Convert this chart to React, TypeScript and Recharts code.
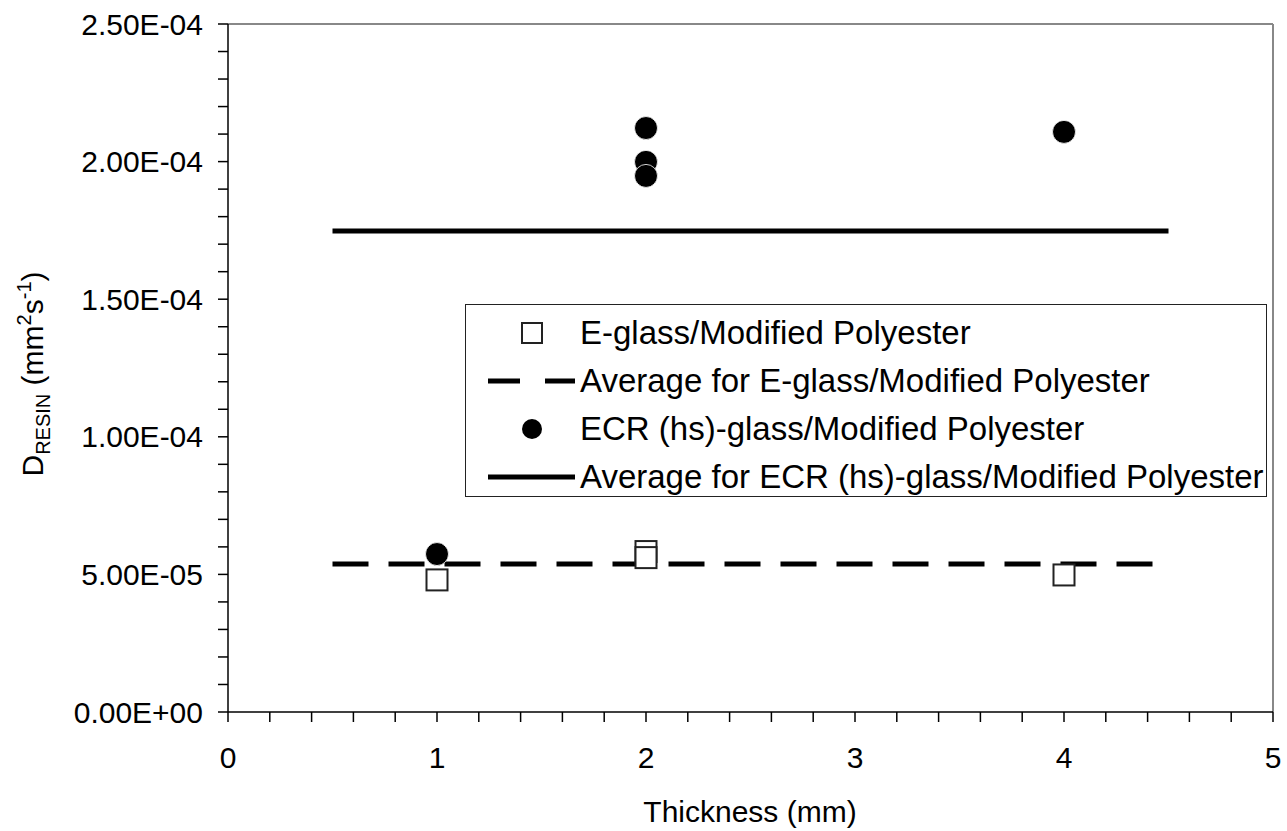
import React from 'react';
import { ScatterChart, Scatter, XAxis, YAxis, ReferenceLine, Legend, Label } from 'recharts';

// axis ticks (major ones get labels)
const xMajorTicks = [0, 1, 2, 3, 4, 5];
const xTicks = [0, 0.2, 0.4, 0.6, 0.8, 1, 1.2, 1.4, 1.6, 1.8, 2, 2.2, 2.4, 2.6, 2.8, 3, 3.2, 3.4, 3.6, 3.8, 4, 4.2, 4.4, 4.6, 4.8, 5];
const yMajorTicks = [0, 5e-5, 1e-4, 1.5e-4, 2e-4, 2.5e-4];
const yTicks = [0, 1e-5, 2e-5, 3e-5, 4e-5, 5e-5, 6e-5, 7e-5, 8e-5, 9e-5, 1e-4, 1.1e-4, 1.2e-4, 1.3e-4, 1.4e-4, 1.5e-4, 1.6e-4, 1.7e-4, 1.8e-4, 1.9e-4, 2e-4, 2.1e-4, 2.2e-4, 2.3e-4, 2.4e-4, 2.5e-4];

// E-glass/Modified Polyester
const thicknessEglass = [1, 2, 2, 4];
const dResinEglass = [4.8e-5, 5.83e-5, 5.61e-5, 4.98e-5];
const avgEglass = 5.38e-5;

// ECR (hs)-glass/Modified Polyester
const thicknessEcr = [1, 2, 2, 2, 4];
const dResinEcr = [5.74e-5, 2.122e-4, 1.999e-4, 1.948e-4, 2.108e-4];
const avgEcr = 1.748e-4;

const avgSpan = [0.5, 4.5];

const legendNames = [
  'E-glass/Modified Polyester',
  'Average for E-glass/Modified Polyester',
  'ECR (hs)-glass/Modified Polyester',
  'Average for ECR (hs)-glass/Modified Polyester',
];

const FONT = '"Liberation Sans", Arial, Helvetica, sans-serif';

const eglassPoints = thicknessEglass.map((x, i) => ({ x, y: dResinEglass[i] }));
const ecrPoints = thicknessEcr.map((x, i) => ({ x, y: dResinEcr[i] }));
const eglassAvgLine = avgSpan.map((x) => ({ x, y: avgEglass }));
const ecrAvgLine = avgSpan.map((x) => ({ x, y: avgEcr }));

const fmtX = (v: number) => (xMajorTicks.some((t) => Math.abs(t - v) < 1e-9) ? String(v) : '');

const fmtY = (v: number) => {
  if (!yMajorTicks.some((t) => Math.abs(t - v) < 1e-12)) return '';
  const [m, e] = v.toExponential(2).split('e');
  const n = parseInt(e, 10);
  const sign = n < 0 ? '-' : '+';
  return `${m}E${sign}${String(Math.abs(n)).padStart(2, '0')}`;
};

const SquareShape = (props: any) => {
  const { cx, cy } = props;
  return <rect x={cx - 10.5} y={cy - 10.5} width={21} height={21} fill="#fff" stroke="#222" strokeWidth={2} />;
};

const CircleShape = (props: any) => {
  const { cx, cy } = props;
  return <circle cx={cx} cy={cy} r={11.5} fill="#000" stroke="#fff" strokeWidth={0.8} />;
};

const NoShape = () => <g />;

const LegendSymbol = ({ index }: { index: number }) => {
  if (index === 0) return <rect x={56} y={14} width={20} height={20} fill="#fff" stroke="#222" strokeWidth={2} />;
  if (index === 1) return <line x1={22} x2={109} y1={24} y2={24} stroke="#000" strokeWidth={5} strokeDasharray="32 25" />;
  if (index === 2) return <circle cx={66} cy={24} r={10} fill="#000" />;
  return <line x1={22} x2={109} y1={24} y2={24} stroke="#000" strokeWidth={5} />;
};

const LegendBox = () => (
  <div
    style={{
      boxSizing: 'border-box',
      width: 802,
      height: 193,
      border: '1px solid #222',
      background: '#fff',
      paddingTop: 4,
      fontFamily: FONT,
      fontSize: 33,
      color: '#000',
    }}
  >
    {legendNames.map((name, i) => (
      <div key={name} style={{ display: 'flex', alignItems: 'center', height: 48 }}>
        <svg width={114} height={48} style={{ flex: 'none' }}>
          <LegendSymbol index={i} />
        </svg>
        <span style={{ whiteSpace: 'nowrap', lineHeight: '48px' }}>{name}</span>
      </div>
    ))}
  </div>
);

const XTitle = () => (
  <text x={750} y={822} textAnchor="middle" fontFamily={FONT} fontSize={30} fill="#000">
    Thickness (mm)
  </text>
);

const YTitle = () => (
  <text transform="translate(43,374) rotate(-90)" textAnchor="middle" fontFamily={FONT} fontSize={30} fill="#000">
    D
    <tspan dy={7} fontSize={20}>RESIN</tspan>
    <tspan dy={-7}> (mm</tspan>
    <tspan dy={-12} fontSize={20}>2</tspan>
    <tspan dy={12}>s</tspan>
    <tspan dy={-12} fontSize={20}>-1</tspan>
    <tspan dy={12}>)</tspan>
  </text>
);

export default function App() {
  return (
    <div style={{ position: 'absolute', left: 0, top: 0, fontFamily: FONT, background: '#fff' }}>
      <ScatterChart width={1287} height={831} margin={{ top: 24, right: 14, bottom: 0, left: 0 }}>
        <XAxis
          type="number"
          dataKey="x"
          domain={[0, 5]}
          ticks={xTicks}
          interval={0}
          tickFormatter={fmtX}
          height={119}
          tickSize={10}
          tickMargin={25}
          axisLine={{ stroke: '#000', strokeWidth: 1.5 }}
          tickLine={{ stroke: '#000', strokeWidth: 1.5 }}
          tick={{ fill: '#000', fontSize: 30, fontFamily: FONT }}
        >
          <Label content={<XTitle />} />
        </XAxis>
        <YAxis
          type="number"
          dataKey="y"
          domain={[0, 2.5e-4]}
          ticks={yTicks}
          interval={0}
          tickFormatter={fmtY}
          width={228}
          tickSize={10}
          tickMargin={15}
          axisLine={{ stroke: '#000', strokeWidth: 1.5 }}
          tickLine={{ stroke: '#000', strokeWidth: 1.5 }}
          tick={{ fill: '#000', fontSize: 30, fontFamily: FONT }}
        >
          <Label content={<YTitle />} />
        </YAxis>
        <ReferenceLine y={2.5e-4} stroke="#888" strokeWidth={2} />
        <ReferenceLine x={5} stroke="#888" strokeWidth={2} />
        <Scatter
          name={legendNames[1]}
          data={eglassAvgLine}
          line={{ stroke: '#000', strokeWidth: 5, strokeDasharray: '36 20' }}
          shape={NoShape}
          isAnimationActive={false}
        />
        <Scatter
          name={legendNames[3]}
          data={ecrAvgLine}
          line={{ stroke: '#000', strokeWidth: 5 }}
          shape={NoShape}
          isAnimationActive={false}
        />
        <Scatter name={legendNames[0]} data={eglassPoints} shape={SquareShape} isAnimationActive={false} />
        <Scatter name={legendNames[2]} data={ecrPoints} shape={CircleShape} isAnimationActive={false} />
        <Legend
          layout="horizontal"
          verticalAlign="middle"
          align="center"
          content={() => <LegendBox />}
          wrapperStyle={{ left: 465, top: 304, width: 802, height: 193 }}
        />
      </ScatterChart>
    </div>
  );
}
